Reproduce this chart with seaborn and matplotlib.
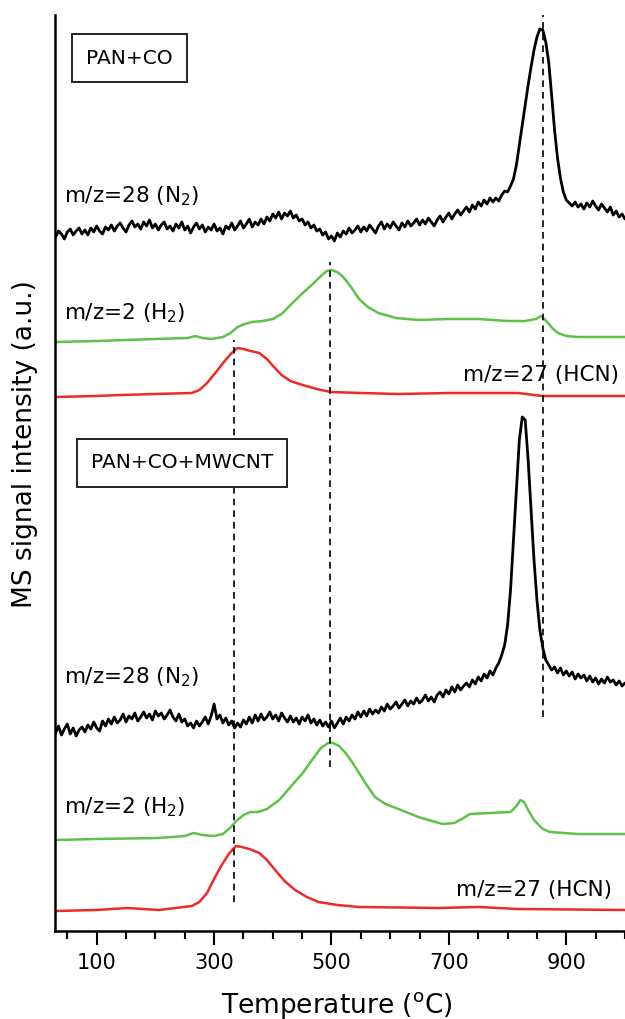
"""
MS signal traces (m/z 28, 2, 27) for PAN+CO and PAN+CO+MWCNT, stacked with offsets.
"""

import numpy as np
import matplotlib
matplotlib.use("Agg")
import matplotlib.pyplot as plt
from matplotlib.ticker import FixedLocator, MultipleLocator
import seaborn as sns

GREEN = "#5ec24a"
RED = "#ee2a24"
BLACK = "#000000"

# ---- data (a.u., traces already stacked) ----
# m/z=28 traces are sampled every 5 degC
temp_n2 = np.arange(30, 1001, 5)

n2_pan_co = [
    694, 700, 697, 692, 699, 702, 696, 700, 703, 697,
    701, 696, 703, 699, 705, 700, 697, 704, 701, 706,
    700, 705, 708, 703, 699, 706, 710, 704, 707, 702,
    709, 705, 711, 703, 707, 701, 706, 709, 702, 705,
    700, 707, 703, 709, 701, 705, 698, 704, 708, 702,
    706, 699, 704, 701, 707, 700, 703, 697, 705, 702,
    708, 701, 705, 710, 703, 707, 712, 704, 709, 706,
    712, 707, 714, 710, 717, 713, 719, 712, 718, 715,
    720, 713, 716, 710, 712, 706, 709, 703, 706, 700,
    702, 696, 699, 692, 695, 690, 698, 694, 700, 697,
    703, 698, 701, 705, 699, 704, 700, 706, 702, 698,
    705, 709, 702, 707, 703, 709, 705, 701, 708, 704,
    710, 705, 708, 712, 706, 711, 707, 713, 709, 705,
    711, 715, 709, 714, 718, 712, 717, 721, 716, 720,
    724, 719, 726, 722, 729, 725, 731, 727, 733, 729,
    733, 730, 736, 740, 739, 745, 752, 766, 786, 806,
    826, 846, 864, 881, 894, 902, 901, 889, 869, 836,
    801, 773, 753, 739, 731, 728, 725, 729, 724, 727,
    722, 728, 724, 730, 725, 721, 727, 723, 719, 724,
    716, 720, 714, 717, 712,
]

n2_pan_co_mwcnt = [
    198, 205, 196, 202, 207, 197, 203, 195, 201, 204,
    199, 206, 202, 209, 203, 200, 210, 205, 212, 207,
    214, 208, 211, 217, 209, 215, 212, 218, 210, 214,
    219, 213, 217, 211, 220, 215, 218, 212, 216, 221,
    214, 210, 217, 209, 212, 205, 208, 203, 210, 205,
    209, 214, 207, 215, 227, 212, 216, 208, 213, 206,
    210, 203, 208, 204, 211, 207, 214, 208, 216, 210,
    217, 211, 214, 219, 212, 216, 210, 218, 213, 209,
    215, 209, 213, 207, 214, 210, 216, 208, 212, 206,
    211, 205, 209, 204, 210, 203, 208, 213, 207, 214,
    210, 216, 212, 219, 214, 220, 215, 222, 217, 221,
    218, 224, 220, 227, 222, 225, 229, 223, 227, 231,
    225, 230, 227, 233, 228, 231, 236, 230, 234, 229,
    236, 239, 234, 241, 237, 244, 239, 246, 241, 245,
    248, 244, 251, 247, 254, 250, 257, 253, 260, 256,
    263, 268, 276, 286, 306, 341, 391, 441, 491, 514,
    511, 471, 421, 371, 331, 301, 283, 271, 266, 261,
    264, 258, 263, 256, 260, 255, 259, 252, 257, 253,
    256, 250, 255, 249, 253, 247, 252, 248, 254, 249,
    251, 246, 250, 245, 248,
]

# m/z=2 and m/z=27 read at irregular temperatures
temp_h2_pan_co = [30, 100, 200, 255, 268, 280, 295, 315, 328, 340, 352, 365, 383,
                  400, 415, 430, 451, 470, 482, 492, 500, 510, 520, 532, 547, 562,
                  580, 610, 648, 700, 750, 800, 830, 848, 857, 866, 876, 886, 900,
                  920, 1000]
h2_pan_co = [589, 590, 592, 593, 595, 593, 592, 594, 598, 604, 607, 609, 610,
             612, 617, 626, 638, 648, 655, 660, 661, 659, 654, 645, 632, 624,
             618, 613, 611, 612, 612, 610, 610, 612, 615, 610, 603, 598, 595,
             594, 594]

temp_hcn_pan_co = [30, 100, 140, 200, 262, 275, 288, 302, 318, 330, 340, 350, 362,
                   377, 390, 402, 415, 430, 451, 475, 499, 550, 614, 700, 818,
                   859, 1000]
hcn_pan_co = [534, 535, 536, 537, 538, 541, 548, 558, 570, 578, 583, 582, 580,
              578, 572, 564, 556, 550, 546, 542, 539, 538, 537, 538, 538,
              535, 535]

temp_h2_mwcnt = [30, 100, 206, 250, 265, 280, 300, 315, 327, 338, 350, 362, 375,
                 390, 411, 430, 451, 468, 482, 494, 503, 513, 524, 535, 547, 560,
                 574, 592, 614, 648, 689, 709, 722, 736, 770, 805, 815, 822, 828,
                 835, 845, 860, 872, 920, 1000]
h2_mwcnt = [91, 92, 93, 95, 98, 96, 95, 97, 103, 110, 116, 119, 119,
            122, 131, 144, 158, 172, 183, 188, 188, 185, 178, 169, 158, 146,
            134, 127, 122, 114, 107, 108, 112, 117, 118, 119, 125, 131, 129,
            121, 111, 102, 99, 97, 97]

temp_hcn_mwcnt = [30, 100, 152, 206, 262, 275, 288, 300, 312, 325, 337, 347, 360,
                  377, 390, 404, 420, 438, 458, 478, 510, 547, 682, 750, 818, 1000]
hcn_mwcnt = [20, 21, 23, 21, 25, 29, 38, 52, 65, 77, 85, 84, 82,
             78, 71, 61, 50, 41, 34, 29, 26, 24, 23, 24, 22, 21]

# guide lines: temperature and vertical extent
dash_temp = [334, 497, 860]
dash_low = [29, 164, 214]
dash_high = [591, 669, 916]

major_ticks = [100, 300, 500, 700, 900]

# ---- figure ----
sns.set_style("ticks")
plt.rcParams["font.family"] = ["DejaVu Sans"]
plt.rcParams["mathtext.fontset"] = "dejavusans"
plt.rcParams["text.color"] = "black"
plt.rcParams["axes.labelcolor"] = "black"
plt.rcParams["axes.edgecolor"] = "black"
plt.rcParams["xtick.color"] = "black"

fig = plt.figure(figsize=(6.25, 10.19), dpi=100)
ax = fig.add_axes([55 / 625, 88 / 1019, 570 / 625, 916 / 1019])

traces = [
    (temp_n2, n2_pan_co, BLACK, 2.0),
    (temp_h2_pan_co, h2_pan_co, GREEN, 1.8),
    (temp_hcn_pan_co, hcn_pan_co, RED, 1.8),
    (temp_n2, n2_pan_co_mwcnt, BLACK, 2.0),
    (temp_h2_mwcnt, h2_mwcnt, GREEN, 1.8),
    (temp_hcn_mwcnt, hcn_mwcnt, RED, 1.8),
]
for tx, ty, col, lw in traces:
    sns.lineplot(x=tx, y=ty, ax=ax, color=col, linewidth=lw, sort=False,
                 estimator=None)

ax.vlines(dash_temp, dash_low, dash_high, colors="black", linewidth=1.2,
          linestyles=(0, (4, 3)))

lab_kw = dict(fontsize=15.5, va="center")
ax.text(44, 735, "m/z=28 (N$_2$)", ha="left", **lab_kw)
ax.text(44, 618, "m/z=2 (H$_2$)", ha="left", **lab_kw)
ax.text(989, 556, "m/z=27 (HCN)", ha="right", **lab_kw)
ax.text(44, 254, "m/z=28 (N$_2$)", ha="left", **lab_kw)
ax.text(44, 124, "m/z=2 (H$_2$)", ha="left", **lab_kw)
ax.text(978, 41, "m/z=27 (HCN)", ha="right", **lab_kw)

box = dict(boxstyle="square,pad=0.7", facecolor="white", edgecolor="#222222",
           linewidth=1.4)
ax.text(156, 873, "PAN+CO", fontsize=14.5, ha="center", va="center", bbox=box)
ax.text(245, 468, "PAN+CO+MWCNT", fontsize=14.5, ha="center", va="center", bbox=box)

ax.set_xlim(29, 1000)
ax.set_ylim(0, 916)
ax.set_yticks([])
ax.xaxis.set_major_locator(FixedLocator(major_ticks))
ax.xaxis.set_minor_locator(MultipleLocator(50))
ax.tick_params(axis="x", which="major", length=10, width=1.5, labelsize=15, pad=6)
ax.tick_params(axis="x", which="minor", length=5.5, width=1.5)

ax.set_xlabel("Temperature ($^{\\mathrm{o}}$C)", fontsize=19)
ax.set_ylabel("MS signal intensity (a.u.)", fontsize=19)
ax.xaxis.set_label_coords(0.495, -0.064)
ax.yaxis.set_label_coords(-0.03, 0.532)

sns.despine(ax=ax, top=True, right=True)
for side in ["left", "bottom"]:
    ax.spines[side].set_linewidth(1.8)

fig.savefig("out.png", dpi=100)
